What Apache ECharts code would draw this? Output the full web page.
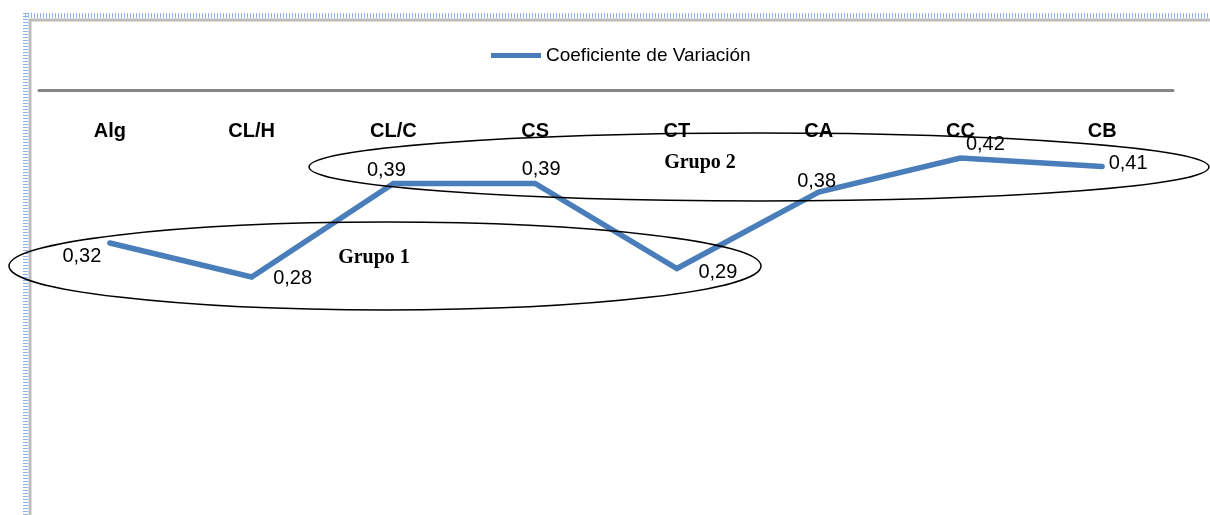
<!DOCTYPE html>
<html>
<head>
<meta charset="utf-8">
<script src="https://cdn.jsdelivr.net/npm/echarts@6/dist/echarts.min.js"></script>
<style>
  html, body { margin: 0; padding: 0; background: #ffffff; }
  #chart { width: 1210px; height: 515px; }
</style>
</head>
<body>
<div id="chart"></div>
<script>
// Coefficient of variation per group of variables
const categories = ['Alg', 'CL/H', 'CL/C', 'CS', 'CT', 'CA', 'CC', 'CB'];
const cvValues = [0.32, 0.28, 0.39, 0.39, 0.29, 0.38, 0.42, 0.41];
const valueLabels = ['0,32', '0,28', '0,39', '0,39', '0,29', '0,38', '0,42', '0,41'];
const seriesName = 'Coeficiente de Variación';
const groupNames = ['Grupo 1', 'Grupo 2'];

// where each value label sits around its point
const labelOffsets = [[-28, 13], [41, 1], [-7, -13], [6, -14], [41, 4], [-2, -11], [25, -14], [26, -3]];

const sans = "'Liberation Sans', Arial, sans-serif";
const serif = "'Liberation Serif', 'Times New Roman', serif";
const lineBlue = '#4a7ebb';

const chart = echarts.init(document.getElementById('chart'));

const seriesData = cvValues.map((v, i) => ({
  value: v,
  label: { offset: labelOffsets[i] }
}));

chart.setOption({
  animation: false,
  backgroundColor: '#ffffff',
  legend: {
    left: 486,
    top: 41,
    itemWidth: 50,
    itemHeight: 5,
    icon: 'rect',
    data: [seriesName],
    textStyle: { fontFamily: sans, fontSize: 19, color: '#000000' }
  },
  grid: { left: 39, right: 37, top: 90, bottom: -3 },
  xAxis: {
    type: 'category',
    position: 'top',
    data: categories,
    axisLine: { show: true, onZero: false, lineStyle: { color: '#868686', width: 3 } },
    axisTick: { show: false },
    axisLabel: {
      inside: true,
      margin: 31,
      fontFamily: sans,
      fontWeight: 'bold',
      fontSize: 20,
      color: '#000000'
    },
    splitLine: { show: false }
  },
  yAxis: {
    type: 'value',
    min: 0,
    max: 0.5,
    show: false,
    splitLine: { show: false }
  },
  series: [{
    name: seriesName,
    type: 'line',
    data: seriesData,
    symbol: 'circle',
    symbolSize: 0,
    lineStyle: { color: lineBlue, width: 5.5, cap: 'round', join: 'miter' },
    itemStyle: { color: lineBlue },
    label: {
      show: true,
      position: 'inside',
      fontFamily: sans,
      fontSize: 20,
      color: '#000000',
      formatter: p => valueLabels[p.dataIndex]
    },
    z: 2
  }],
  graphic: [
    // chart area frame
    { type: 'line', z: 50, shape: { x1: 25, y1: 15.5, x2: 1210, y2: 15.5 },
      style: { stroke: '#8db3ee', lineWidth: 5, lineDash: [1, 2] } },
    { type: 'line', z: 50, shape: { x1: 25.5, y1: 13, x2: 25.5, y2: 515 },
      style: { stroke: '#8db3ee', lineWidth: 5, lineDash: [1, 2] } },
    { type: 'line', z: 50, shape: { x1: 29, y1: 20, x2: 1210, y2: 20 },
      style: { stroke: '#bcbcbc', lineWidth: 3 } },
    { type: 'line', z: 50, shape: { x1: 30, y1: 19, x2: 30, y2: 515 },
      style: { stroke: '#bcbcbc', lineWidth: 3 } },
    // group outlines
    { type: 'ellipse', z: 100, shape: { cx: 385, cy: 266, rx: 376, ry: 44 },
      style: { fill: 'none', stroke: '#000000', lineWidth: 1.5 } },
    { type: 'ellipse', z: 100, shape: { cx: 759, cy: 167, rx: 450, ry: 34 },
      style: { fill: 'none', stroke: '#000000', lineWidth: 1.5 } },
    { type: 'text', z: 100, x: 374, y: 258,
      style: { text: groupNames[0], fontFamily: serif,
               fontWeight: 'bold', fontSize: 20, fill: '#000000', align: 'center', verticalAlign: 'middle' } },
    { type: 'text', z: 100, x: 700, y: 163,
      style: { text: groupNames[1], fontFamily: serif,
               fontWeight: 'bold', fontSize: 20, fill: '#000000', align: 'center', verticalAlign: 'middle' } }
  ]
});
</script>
</body>
</html>
